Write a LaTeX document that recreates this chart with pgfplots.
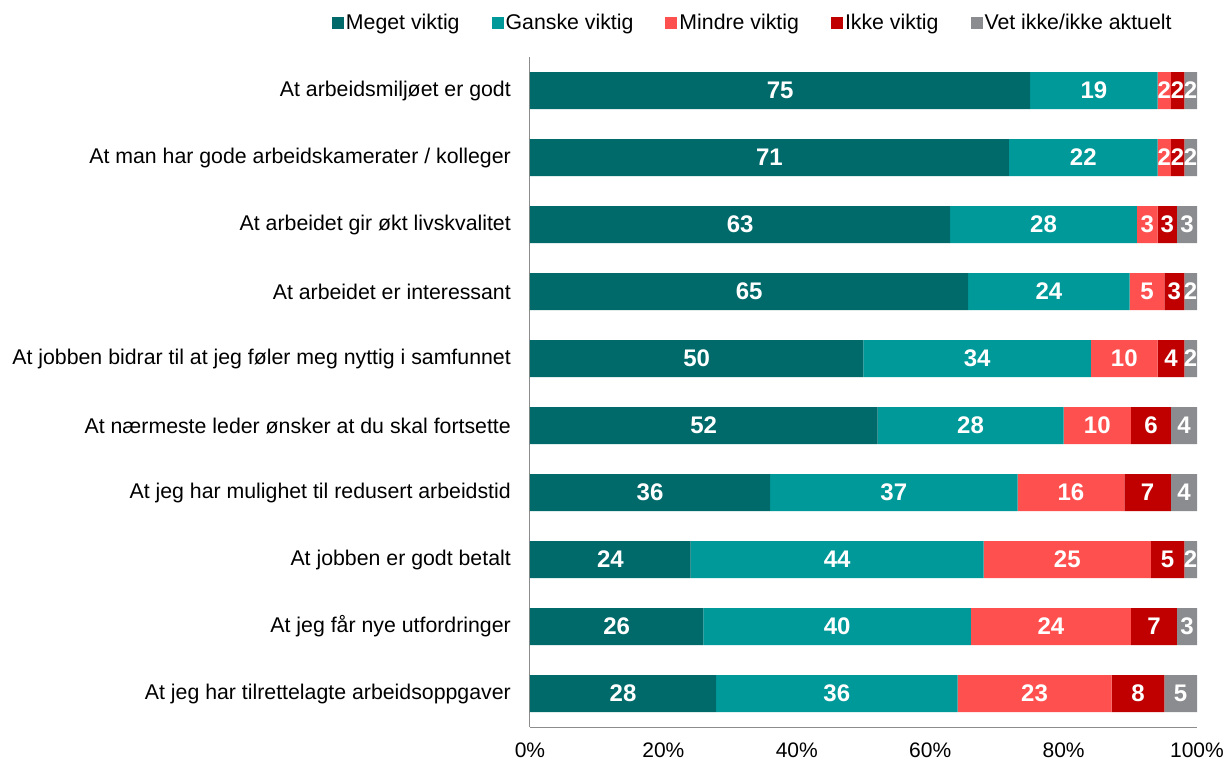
\documentclass[border=0pt]{standalone}
\usepackage{pgfplots}
\pgfplotsset{compat=1.18}
\usepackage{pgfplotstable}
\usepackage{fontspec}
\setmainfont{Liberation Sans}
\definecolor{cA}{HTML}{006A6A}
\definecolor{cB}{HTML}{009999}
\definecolor{cC}{HTML}{FF5050}
\definecolor{cD}{HTML}{C00000}
\definecolor{cE}{HTML}{8B8C8F}
\pgfplotstableread{
y a b c d e la lb lc ld le
0 75.0 19.1 2.0 2.0 1.9 75 19 2 2 2
1 71.8 22.3 2.0 2.0 1.9 71 22 2 2 2
2 63.0 28.0 3.1 2.9 3.0 63 28 3 3 3
3 65.7 24.2 5.2 3.0 1.9 65 24 5 3 2
4 50.0 34.1 10.0 4.0 1.9 50 34 10 4 2
5 52.1 27.9 10.1 6.0 3.9 52 28 10 6 4
6 36.0 37.1 16.0 7.0 3.9 36 37 16 7 4
7 24.1 43.9 25.1 5.0 1.9 24 44 25 5 2
8 26.0 40.1 24.0 6.9 3.0 26 40 24 7 3
9 27.9 36.2 23.1 7.9 4.9 28 36 23 8 5
}\data
\begin{document}
\begin{tikzpicture}
\path[use as bounding box] (-530pt,-33pt) rectangle (696pt,727pt);
\begin{axis}[
  scale only axis, width=667pt, height=670pt,
  xbar stacked, bar width=37pt,
  xmin=0, xmax=100, ymin=-0.5, ymax=9.5, y dir=reverse,
  ytick={0,...,9},
  yticklabels={At arbeidsmiljøet er godt, At man har gode arbeidskamerater / kolleger, At arbeidet gir økt livskvalitet, At arbeidet er interessant, At jobben bidrar til at jeg føler meg nyttig i samfunnet, At nærmeste leder ønsker at du skal fortsette, At jeg har mulighet til redusert arbeidstid, At jobben er godt betalt, At jeg får nye utfordringer, At jeg har tilrettelagte arbeidsoppgaver},
  xtick={0,20,...,100},
  /pgf/number format/assume math mode=true,
  xticklabel={\pgfmathprintnumber{\tick}\%},
  axis x line*=bottom, axis y line*=left,
  axis line style={draw=black!45, line width=1pt},
  major tick length=0pt,
  tick style={draw=none},
  font=\fontsize{21.3}{25}\selectfont,
  yticklabel style={inner sep=0pt, xshift=-19pt, font=\fontsize{21.3}{25}\selectfont},
  xticklabel style={inner sep=0pt, yshift=-16pt, font=\fontsize{21}{25}\selectfont},
  legend columns=-1,
  legend style={draw=none, fill=none, at={(0.334,1.051)}, anchor=center,
    font=\fontsize{21.3}{25}\selectfont,
    nodes={inner sep=2pt},
    /tikz/every even column/.append style={column sep=30pt}},
  legend image code/.code={\fill[#1] (0pt,-6pt) rectangle (12pt,6pt);},
  point meta=explicit symbolic,
  nodes near coords,
  every node near coord/.append style={font=\fontsize{24}{24}\selectfont\bfseries, text=white, anchor=center, inner sep=0pt},
]
\addplot[fill=cA, draw=none] table[x=a, y=y, meta=la] {\data};
\addplot[fill=cB, draw=none] table[x=b, y=y, meta=lb] {\data};
\addplot[fill=cC, draw=none] table[x=c, y=y, meta=lc] {\data};
\addplot[fill=cD, draw=none] table[x=d, y=y, meta=ld] {\data};
\addplot[fill=cE, draw=none] table[x=e, y=y, meta=le] {\data};
\legend{Meget viktig, Ganske viktig, Mindre viktig, Ikke viktig, Vet ikke/ikke aktuelt}
\end{axis}
\end{tikzpicture}
\end{document}
